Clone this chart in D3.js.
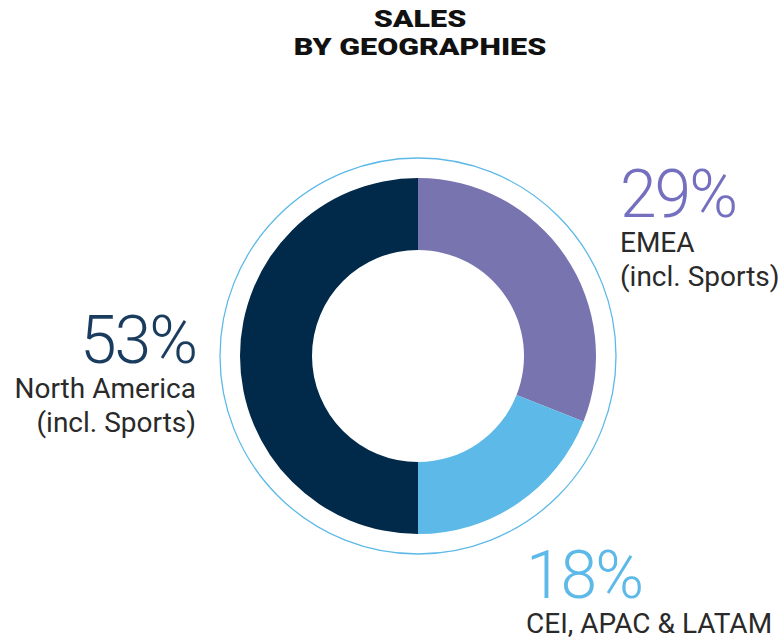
<!DOCTYPE html>
<html>
<head>
<meta charset="utf-8">
<script src="https://cdn.jsdelivr.net/npm/d3@7"></script>
<style>
  html, body { margin: 0; padding: 0; background: #fff; }
  svg { display: block; }
</style>
</head>
<body>
<svg id="chart" width="782" height="642"></svg>
<script>
// ---- data ----
const titleLines = ["SALES", "BY GEOGRAPHIES"];
const categories = ["EMEA", "CEI, APAC & LATAM", "North America"];
const subLabels = ["(incl. Sports)", "", "(incl. Sports)"];
const percentLabels = ["29%", "18%", "53%"];
// slice sizes as drawn in the reference (clockwise from 12 o'clock)
const shares = [31, 19, 50];
const colors = ["#7874b0", "#5db9e7", "#012a4a"];
const pctColors = ["#7470bf", "#5db9e7", "#1a3c5e"];

// ---- layout ----
const svg = d3.select("#chart");
const cx = 418, cy = 356;
const outerR = 178, innerR = 106, ringR = 198;

// title (wide heavy face: stretch glyphs horizontally)
svg.append("g").selectAll("text").data(titleLines).join("text")
  .attr("x", 420)
  .attr("y", (d, i) => 27 + i * 28)
  .attr("text-anchor", "middle")
  .attr("font-family", "Roboto, sans-serif")
  .attr("font-weight", 900)
  .attr("font-size", 24)
  .attr("fill", "#111")
  .text(d => d)
  .each(function () {
    const w = this.getComputedTextLength();
    d3.select(this)
      .attr("textLength", w * 1.27)
      .attr("lengthAdjust", "spacingAndGlyphs");
  });

const g = svg.append("g").attr("transform", `translate(${cx},${cy})`);

// outer thin ring
g.append("circle")
  .attr("r", ringR)
  .attr("fill", "none")
  .attr("stroke", "#5db9e7")
  .attr("stroke-width", 1.3);

const pie = d3.pie().sort(null).value(d => d);
const arc = d3.arc().innerRadius(innerR).outerRadius(outerR);

g.selectAll("path.slice").data(pie(shares)).join("path")
  .attr("class", "slice")
  .attr("d", arc)
  .attr("fill", (d, i) => colors[i]);

// labels
const labelPos = [
  { x: 620, y: 217, anchor: "start" },
  { x: 526, y: 598, anchor: "start" },
  { x: 196, y: 363, anchor: "end" }
];

const lg = svg.append("g");
labelPos.forEach((p, i) => {
  lg.append("text")
    .attr("x", p.x)
    .attr("y", p.y)
    .attr("text-anchor", p.anchor)
    .attr("font-family", "Roboto, sans-serif")
    .attr("font-weight", 300)
    .attr("font-size", 66)
    .attr("letter-spacing", -2)
    .attr("fill", pctColors[i])
    .text(percentLabels[i]);
  const lines = [categories[i], subLabels[i]].filter(s => s);
  lines.forEach((s, j) => {
    lg.append("text")
      .attr("x", p.x)
      .attr("y", p.y + 35 + j * 34)
      .attr("text-anchor", p.anchor)
      .attr("font-family", "Roboto, sans-serif")
      .attr("font-weight", 400)
      .attr("font-size", 28)
      .attr("fill", "#2a2a2a")
      .text(s);
  });
});
</script>
</body>
</html>
